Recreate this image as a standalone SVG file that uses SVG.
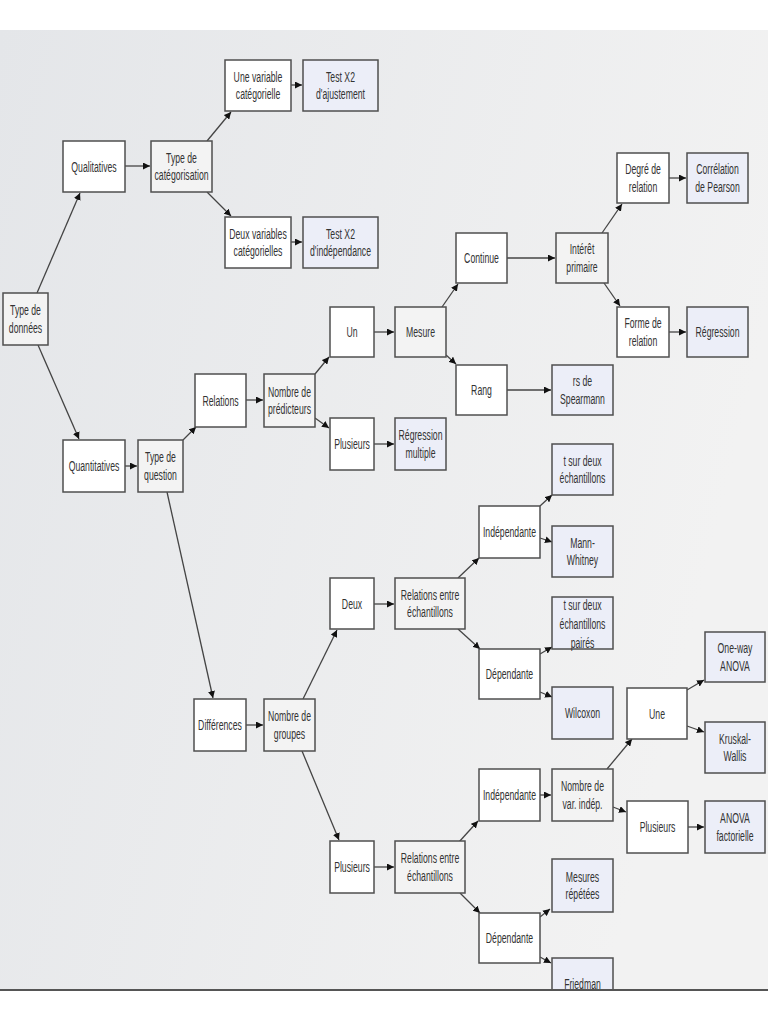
<svg xmlns="http://www.w3.org/2000/svg" width="768" height="1024" viewBox="0 0 768 1024">
<defs>
<linearGradient id="bg" x1="0" y1="0" x2="1" y2="0.3">
<stop offset="0" stop-color="#e4e6e9"/>
<stop offset="1" stop-color="#f2f2f2"/>
</linearGradient>
<clipPath id="photo"><rect x="0" y="30" width="768" height="960"/></clipPath>
<marker id="ah" markerUnits="userSpaceOnUse" markerWidth="7" markerHeight="7" refX="7" refY="3.5" orient="auto">
<path d="M0,0 L7,3.5 L0,7 z" fill="#111"/>
</marker>
<style>
.b{stroke:#4f4f4f;stroke-width:1.5}
.w{fill:#ffffff}
.d{fill:#f3f3f3}
.x{fill:#eceef8}
.t{font-family:"Liberation Sans",Arial,sans-serif;font-size:14.5px;fill:#333;text-anchor:middle}
#connectors line{stroke:#444;stroke-width:1.3;marker-end:url(#ah)}
</style>
</defs>
<rect x="0" y="0" width="768" height="1024" fill="#ffffff"/>
<g clip-path="url(#photo)">
<rect x="0" y="30" width="768" height="960" fill="url(#bg)"/>
<g id="connectors">
<line x1="37" y1="293" x2="80" y2="193"/>
<line x1="38" y1="345" x2="79" y2="439"/>
<line x1="125" y1="166" x2="150" y2="166"/>
<line x1="207" y1="141" x2="231" y2="112"/>
<line x1="207" y1="192" x2="231" y2="216"/>
<line x1="291" y1="85" x2="302" y2="85"/>
<line x1="291" y1="242" x2="302" y2="242"/>
<line x1="125" y1="466" x2="137" y2="466"/>
<line x1="183" y1="440" x2="196" y2="427"/>
<line x1="167" y1="492" x2="213" y2="698"/>
<line x1="246" y1="400" x2="263" y2="400"/>
<line x1="315" y1="374" x2="329" y2="357"/>
<line x1="315" y1="418" x2="329" y2="428"/>
<line x1="374" y1="332" x2="394" y2="332"/>
<line x1="374" y1="444" x2="394" y2="444"/>
<line x1="442" y1="307" x2="458" y2="284"/>
<line x1="446" y1="355" x2="456" y2="364"/>
<line x1="507" y1="258" x2="555" y2="258"/>
<line x1="507" y1="390" x2="551" y2="390"/>
<line x1="602" y1="233" x2="622" y2="204"/>
<line x1="604" y1="283" x2="620" y2="306"/>
<line x1="669" y1="178" x2="686" y2="178"/>
<line x1="669" y1="332" x2="686" y2="332"/>
<line x1="246" y1="725" x2="263" y2="725"/>
<line x1="303" y1="699" x2="337" y2="630"/>
<line x1="302" y1="751" x2="339" y2="840"/>
<line x1="374" y1="604" x2="394" y2="604"/>
<line x1="458" y1="578" x2="479" y2="558"/>
<line x1="458" y1="629" x2="480" y2="649"/>
<line x1="540" y1="506" x2="552" y2="495"/>
<line x1="540" y1="538" x2="552" y2="542"/>
<line x1="540" y1="654" x2="552" y2="647"/>
<line x1="540" y1="692" x2="552" y2="697"/>
<line x1="374" y1="867" x2="394" y2="867"/>
<line x1="459" y1="842" x2="478" y2="821"/>
<line x1="460" y1="893" x2="480" y2="913"/>
<line x1="540" y1="795" x2="551" y2="795"/>
<line x1="607" y1="769" x2="632" y2="739"/>
<line x1="613" y1="807" x2="626" y2="812"/>
<line x1="688" y1="827" x2="704" y2="827"/>
<line x1="687" y1="690" x2="704" y2="680"/>
<line x1="687" y1="726" x2="704" y2="732"/>
<line x1="540" y1="917" x2="550" y2="909"/>
<line x1="540" y1="957" x2="551" y2="963"/>
</g>

<g id="n-type-donnees"><rect class="b d" x="3" y="293" width="45" height="52"/><text class="t" transform="translate(25.5 319) scale(0.6 1)"><tspan x="0" y="-4">Type de</tspan><tspan x="0" y="14">données</tspan></text></g>
<g id="n-qualitatives"><rect class="b w" x="63" y="141" width="62" height="51"/><text class="t" transform="translate(94 166.5) scale(0.6 1)"><tspan x="0" y="5">Qualitatives</tspan></text></g>
<g id="n-quantitatives"><rect class="b w" x="63" y="440" width="62" height="52"/><text class="t" transform="translate(94 466) scale(0.6 1)"><tspan x="0" y="5">Quantitatives</tspan></text></g>
<g id="n-type-cat"><rect class="b d" x="151" y="141" width="61" height="51"/><text class="t" transform="translate(181.5 166.5) scale(0.6 1)"><tspan x="0" y="-4">Type de</tspan><tspan x="0" y="14">catégorisation</tspan></text></g>
<g id="n-une-var"><rect class="b w" x="225" y="60" width="66" height="51"/><text class="t" transform="translate(258 85.5) scale(0.6 1)"><tspan x="0" y="-4">Une variable</tspan><tspan x="0" y="14">catégorielle</tspan></text></g>
<g id="n-deux-var"><rect class="b w" x="225" y="217" width="66" height="51"/><text class="t" transform="translate(258 242.5) scale(0.6 1)"><tspan x="0" y="-4">Deux variables</tspan><tspan x="0" y="14">catégorielles</tspan></text></g>
<g id="n-test-ajust"><rect class="b x" x="303" y="60" width="75" height="51"/><text class="t" transform="translate(340.5 85.5) scale(0.6 1)"><tspan x="0" y="-4">Test X2</tspan><tspan x="0" y="14">d'ajustement</tspan></text></g>
<g id="n-test-indep"><rect class="b x" x="303" y="217" width="75" height="51"/><text class="t" transform="translate(340.5 242.5) scale(0.6 1)"><tspan x="0" y="-4">Test X2</tspan><tspan x="0" y="14">d'indépendance</tspan></text></g>
<g id="n-type-question"><rect class="b d" x="138" y="440" width="45" height="52"/><text class="t" transform="translate(160.5 466) scale(0.6 1)"><tspan x="0" y="-4">Type de</tspan><tspan x="0" y="14">question</tspan></text></g>
<g id="n-relations"><rect class="b w" x="195" y="374" width="51" height="53"/><text class="t" transform="translate(220.5 400.5) scale(0.6 1)"><tspan x="0" y="5">Relations</tspan></text></g>
<g id="n-nb-pred"><rect class="b d" x="264" y="374" width="51" height="53"/><text class="t" transform="translate(289.5 400.5) scale(0.6 1)"><tspan x="0" y="-4">Nombre de</tspan><tspan x="0" y="14">prédicteurs</tspan></text></g>
<g id="n-un"><rect class="b w" x="330" y="307" width="44" height="50"/><text class="t" transform="translate(352 332) scale(0.6 1)"><tspan x="0" y="5">Un</tspan></text></g>
<g id="n-plusieurs-1"><rect class="b w" x="330" y="418" width="44" height="52"/><text class="t" transform="translate(352 444) scale(0.6 1)"><tspan x="0" y="5">Plusieurs</tspan></text></g>
<g id="n-reg-mult"><rect class="b x" x="395" y="418" width="51" height="52"/><text class="t" transform="translate(420.5 444) scale(0.6 1)"><tspan x="0" y="-4">Régression</tspan><tspan x="0" y="14">multiple</tspan></text></g>
<g id="n-mesure"><rect class="b d" x="395" y="307" width="51" height="50"/><text class="t" transform="translate(420.5 332) scale(0.6 1)"><tspan x="0" y="5">Mesure</tspan></text></g>
<g id="n-continue"><rect class="b w" x="456" y="233" width="51" height="50"/><text class="t" transform="translate(481.5 258) scale(0.6 1)"><tspan x="0" y="5">Continue</tspan></text></g>
<g id="n-rang"><rect class="b w" x="456" y="365" width="51" height="50"/><text class="t" transform="translate(481.5 390) scale(0.6 1)"><tspan x="0" y="5">Rang</tspan></text></g>
<g id="n-spearmann"><rect class="b x" x="552" y="365" width="61" height="50"/><text class="t" transform="translate(582.5 390) scale(0.6 1)"><tspan x="0" y="-4">rs de</tspan><tspan x="0" y="14">Spearmann</tspan></text></g>
<g id="n-interet"><rect class="b d" x="556" y="233" width="52" height="50"/><text class="t" transform="translate(582 258) scale(0.6 1)"><tspan x="0" y="-4">Intérêt</tspan><tspan x="0" y="14">primaire</tspan></text></g>
<g id="n-degre"><rect class="b w" x="617" y="153" width="52" height="50"/><text class="t" transform="translate(643 178) scale(0.6 1)"><tspan x="0" y="-4">Degré de</tspan><tspan x="0" y="14">relation</tspan></text></g>
<g id="n-pearson"><rect class="b x" x="687" y="153" width="61" height="50"/><text class="t" transform="translate(717.5 178) scale(0.6 1)"><tspan x="0" y="-4">Corrélation</tspan><tspan x="0" y="14">de Pearson</tspan></text></g>
<g id="n-forme"><rect class="b w" x="617" y="307" width="52" height="50"/><text class="t" transform="translate(643 332) scale(0.6 1)"><tspan x="0" y="-4">Forme de</tspan><tspan x="0" y="14">relation</tspan></text></g>
<g id="n-regression"><rect class="b x" x="687" y="307" width="61" height="50"/><text class="t" transform="translate(717.5 332) scale(0.6 1)"><tspan x="0" y="5">Régression</tspan></text></g>
<g id="n-differences"><rect class="b w" x="194" y="699" width="52" height="52"/><text class="t" transform="translate(220 725) scale(0.6 1)"><tspan x="0" y="5">Différences</tspan></text></g>
<g id="n-nb-groupes"><rect class="b d" x="264" y="699" width="51" height="52"/><text class="t" transform="translate(289.5 725) scale(0.6 1)"><tspan x="0" y="-4">Nombre de</tspan><tspan x="0" y="14">groupes</tspan></text></g>
<g id="n-deux"><rect class="b w" x="330" y="578" width="44" height="51"/><text class="t" transform="translate(352 603.5) scale(0.6 1)"><tspan x="0" y="5">Deux</tspan></text></g>
<g id="n-rel-ech-1"><rect class="b d" x="395" y="578" width="70" height="51"/><text class="t" transform="translate(430 603.5) scale(0.6 1)"><tspan x="0" y="-4">Relations entre</tspan><tspan x="0" y="14">échantillons</tspan></text></g>
<g id="n-indep-1"><rect class="b w" x="479" y="506" width="61" height="52"/><text class="t" transform="translate(509.5 532) scale(0.6 1)"><tspan x="0" y="5">Indépendante</tspan></text></g>
<g id="n-dep-1"><rect class="b w" x="479" y="649" width="61" height="50"/><text class="t" transform="translate(509.5 674) scale(0.6 1)"><tspan x="0" y="5">Dépendante</tspan></text></g>
<g id="n-t-deux"><rect class="b x" x="552" y="444" width="61" height="51"/><text class="t" transform="translate(582.5 469.5) scale(0.6 1)"><tspan x="0" y="-4">t sur deux</tspan><tspan x="0" y="14">échantillons</tspan></text></g>
<g id="n-mann"><rect class="b x" x="552" y="526" width="61" height="51"/><text class="t" transform="translate(582.5 551.5) scale(0.6 1)"><tspan x="0" y="-4">Mann-</tspan><tspan x="0" y="14">Whitney</tspan></text></g>
<g id="n-t-paires"><rect class="b x" x="552" y="597" width="61" height="52"/><text class="t" transform="translate(582.5 623) scale(0.6 1)"><tspan x="0" y="-13">t sur deux</tspan><tspan x="0" y="6">échantillons</tspan><tspan x="0" y="25">pairés</tspan></text></g>
<g id="n-wilcoxon"><rect class="b x" x="552" y="687" width="61" height="52"/><text class="t" transform="translate(582.5 713) scale(0.6 1)"><tspan x="0" y="5">Wilcoxon</tspan></text></g>
<g id="n-une"><rect class="b w" x="627" y="688" width="60" height="51"/><text class="t" transform="translate(657 713.5) scale(0.6 1)"><tspan x="0" y="5">Une</tspan></text></g>
<g id="n-oneway"><rect class="b x" x="705" y="632" width="60" height="50"/><text class="t" transform="translate(735 657) scale(0.6 1)"><tspan x="0" y="-4">One-way</tspan><tspan x="0" y="14">ANOVA</tspan></text></g>
<g id="n-kruskal"><rect class="b x" x="705" y="722" width="60" height="51"/><text class="t" transform="translate(735 747.5) scale(0.6 1)"><tspan x="0" y="-4">Kruskal-</tspan><tspan x="0" y="14">Wallis</tspan></text></g>
<g id="n-plusieurs-2"><rect class="b w" x="330" y="841" width="44" height="52"/><text class="t" transform="translate(352 867) scale(0.6 1)"><tspan x="0" y="5">Plusieurs</tspan></text></g>
<g id="n-rel-ech-2"><rect class="b d" x="395" y="841" width="70" height="52"/><text class="t" transform="translate(430 867) scale(0.6 1)"><tspan x="0" y="-4">Relations entre</tspan><tspan x="0" y="14">échantillons</tspan></text></g>
<g id="n-indep-2"><rect class="b w" x="479" y="769" width="61" height="52"/><text class="t" transform="translate(509.5 795) scale(0.6 1)"><tspan x="0" y="5">Indépendante</tspan></text></g>
<g id="n-nb-var"><rect class="b d" x="552" y="769" width="61" height="52"/><text class="t" transform="translate(582.5 795) scale(0.6 1)"><tspan x="0" y="-4">Nombre de</tspan><tspan x="0" y="14">var. indép.</tspan></text></g>
<g id="n-plusieurs-3"><rect class="b w" x="627" y="801" width="61" height="52"/><text class="t" transform="translate(657.5 827) scale(0.6 1)"><tspan x="0" y="5">Plusieurs</tspan></text></g>
<g id="n-anova-fact"><rect class="b x" x="705" y="801" width="60" height="52"/><text class="t" transform="translate(735 827) scale(0.6 1)"><tspan x="0" y="-4">ANOVA</tspan><tspan x="0" y="14">factorielle</tspan></text></g>
<g id="n-mesures-rep"><rect class="b x" x="552" y="859" width="61" height="53"/><text class="t" transform="translate(582.5 885.5) scale(0.6 1)"><tspan x="0" y="-4">Mesures</tspan><tspan x="0" y="14">répétées</tspan></text></g>
<g id="n-dep-2"><rect class="b w" x="479" y="913" width="61" height="50"/><text class="t" transform="translate(509.5 938) scale(0.6 1)"><tspan x="0" y="5">Dépendante</tspan></text></g>
<g id="n-friedman"><rect class="b x" x="552" y="958" width="61" height="51"/><text class="t" transform="translate(582.5 983.5) scale(0.6 1)"><tspan x="0" y="5">Friedman</tspan></text></g>
</g>
<line x1="0" y1="990" x2="768" y2="990" stroke="#555" stroke-width="2"/>
</svg>
